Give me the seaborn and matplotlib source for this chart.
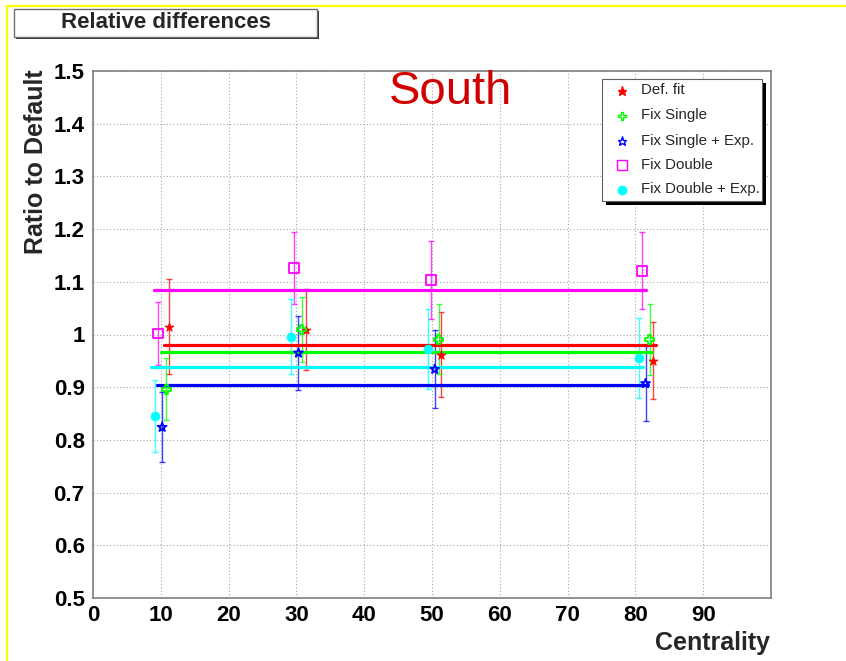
import matplotlib
matplotlib.use("Agg")
import matplotlib.pyplot as plt
import seaborn as sns
import pandas as pd
from matplotlib.patches import Rectangle
from matplotlib.lines import Line2D
from matplotlib.ticker import MultipleLocator, FixedLocator, FixedFormatter

# ---------------- data ----------------
series_names = ["Def. fit", "Fix Single", "Fix Single + Exp.", "Fix Double", "Fix Double + Exp."]
series_colors = ["#ff0000", "#00ff00", "#0000ff", "#ff00ff", "#00ffff"]

x_def = [11.2, 31.4, 51.4, 82.6]
y_def = [1.015, 1.009, 0.962, 0.950]
e_def = [0.090, 0.077, 0.081, 0.073]

x_fs = [10.8, 30.8, 51.0, 82.1]
y_fs = [0.896, 1.009, 0.991, 0.991]
e_fs = [0.059, 0.062, 0.066, 0.067]

x_fse = [10.2, 30.3, 50.4, 81.5]
y_fse = [0.824, 0.965, 0.934, 0.907]
e_fse = [0.066, 0.070, 0.074, 0.071]

x_fd = [9.6, 29.7, 49.9, 81.0]
y_fd = [1.002, 1.126, 1.104, 1.121]
e_fd = [0.060, 0.068, 0.074, 0.073]

x_fde = [9.2, 29.2, 49.4, 80.5]
y_fde = [0.845, 0.996, 0.972, 0.955]
e_fde = [0.068, 0.071, 0.076, 0.076]

# constant fits: value, range start, range end
fit_val = [0.981, 0.966, 0.904, 1.084, 0.938]
fit_lo = [10.5, 10.0, 9.5, 9.0, 8.6]
fit_hi = [83.1, 82.5, 81.8, 81.6, 81.1]

x_ticks = [0, 10, 20, 30, 40, 50, 60, 70, 80, 90]
y_ticks = [0.5, 0.6, 0.7, 0.8, 0.9, 1.0, 1.1, 1.2, 1.3, 1.4, 1.5]
y_tick_labels = ["0.5", "0.6", "0.7", "0.8", "0.9", "1", "1.1", "1.2", "1.3", "1.4", "1.5"]

title_text = "Relative differences"
region_text = "South"
x_label = "Centrality"
y_label = "Ratio to Default"

# ---------------- style ----------------
sns.set_style("white")
plt.rcParams["font.family"] = ["Liberation Sans", "DejaVu Sans"]

W, H = 846, 661
fig = plt.figure(figsize=(W / 100, H / 100), dpi=100)


def fx(px):
    return px / W


def fy(py):
    return 1 - py / H


ax = fig.add_axes([fx(93), fy(598), fx(771) - fx(93), fy(71) - fy(598)])
ax.set_xlim(0, 100)
ax.set_ylim(0.5, 1.5)

xs = [x_def, x_fs, x_fse, x_fd, x_fde]
ys = [y_def, y_fs, y_fse, y_fd, y_fde]
es = [e_def, e_fs, e_fse, e_fd, e_fde]
markers = ["*", "P", "*", "s", "o"]
filled = [True, False, False, False, True]
msizes = [45, 40, 45, 50, 40]

rows = []
for name, xv, yv, ev in zip(series_names, xs, ys, es):
    for a, b, c in zip(xv, yv, ev):
        rows.append({"series": name, "x": a, "y": b, "err": c})
df = pd.DataFrame(rows)

fit_rows = []
for name, v, lo, hi in zip(series_names, fit_val, fit_lo, fit_hi):
    fit_rows.append({"series": name, "x": lo, "y": v})
    fit_rows.append({"series": name, "x": hi, "y": v})
fit_df = pd.DataFrame(fit_rows)

palette = dict(zip(series_names, series_colors))

for i, name in enumerate(series_names):
    d = df[df["series"] == name]
    ax.errorbar(d["x"], d["y"], yerr=d["err"], fmt="none", ecolor=series_colors[i],
                elinewidth=1.0, capsize=2.5, capthick=1.0, alpha=0.75, zorder=3)

sns.lineplot(data=fit_df, x="x", y="y", hue="series", palette=palette, units="series",
             estimator=None, linewidth=2.3, legend=False, ax=ax, zorder=4)

for i, name in enumerate(series_names):
    d = df[df["series"] == name]
    if filled[i]:
        sns.scatterplot(x=d["x"], y=d["y"], marker=markers[i], color=series_colors[i],
                        s=msizes[i], edgecolor=series_colors[i], linewidth=0.6,
                        legend=False, ax=ax, zorder=5)
    else:
        sns.scatterplot(x=d["x"], y=d["y"], marker=markers[i], s=msizes[i],
                        facecolors="none", edgecolor=series_colors[i], linewidth=1.3,
                        legend=False, ax=ax, zorder=5)

ax.set_xlabel("")
ax.set_ylabel("")

# ticks & grid
ax.xaxis.set_major_locator(FixedLocator(x_ticks))
ax.xaxis.set_minor_locator(MultipleLocator(2))
ax.yaxis.set_major_locator(FixedLocator(y_ticks))
ax.yaxis.set_major_formatter(FixedFormatter(y_tick_labels))
ax.yaxis.set_minor_locator(MultipleLocator(0.02))
ax.tick_params(axis="both", which="both", direction="in", colors="#808080",
               labelcolor="black", top=False, right=False)
ax.tick_params(axis="x", which="major", length=9, width=1.0, labelsize=16, pad=5)
ax.tick_params(axis="x", which="minor", length=5, width=1.0)
ax.tick_params(axis="y", which="major", length=7, width=1.0, labelsize=16, pad=6)
ax.tick_params(axis="y", which="minor", length=4, width=1.0)
for lab in ax.get_xticklabels() + ax.get_yticklabels():
    lab.set_fontweight("bold")
ax.grid(True, which="major", linestyle=(0, (1, 2)), color="#a8a8a8", linewidth=0.8)
ax.set_axisbelow(True)
for sp in ax.spines.values():
    sp.set_color("#808080")
    sp.set_linewidth(1.2)
    sp.set_visible(True)

# axis labels
fig.text(fx(36), fy(162), y_label, rotation=90, ha="center", va="center",
         fontsize=18, fontweight="bold")
fig.text(fx(770), fy(643), x_label, ha="right", va="center",
         fontsize=18, fontweight="bold")

# region label
fig.text(fx(451), fy(92), region_text, ha="center", va="center",
         fontsize=34, color="#d00000")

# title box with shadow
fig.add_artist(Rectangle((fx(15.5), fy(38.5)), fx(318) - fx(15), fy(9) - fy(37),
                         transform=fig.transFigure, facecolor="#303030", edgecolor="none", zorder=9))
fig.add_artist(Rectangle((fx(13.5), fy(37)), fx(316.5) - fx(13.5), fy(9) - fy(37),
                         transform=fig.transFigure, facecolor="white", edgecolor="#707070",
                         linewidth=1.0, zorder=10))
fig.text(fx(166), fy(22.5), title_text, ha="center", va="center",
         fontsize=16, fontweight="bold", zorder=11)

# legend with shadow
lx0, lx1, ly0, ly1 = 601.5, 762, 79, 201
fig.add_artist(Rectangle((fx(lx0 + 4), fy(ly1 + 4)), fx(lx1) - fx(lx0), fy(ly0) - fy(ly1),
                         transform=fig.transFigure, facecolor="black", edgecolor="none", zorder=9))
fig.add_artist(Rectangle((fx(lx0), fy(ly1)), fx(lx1) - fx(lx0), fy(ly0) - fy(ly1),
                         transform=fig.transFigure, facecolor="white", edgecolor="#606060",
                         linewidth=0.8, zorder=10))
row_y = [90.5, 115.5, 140.5, 165, 189.5]
leg_ms = [6.5, 6, 6.5, 6.5, 6]
for i, name in enumerate(series_names):
    mfc = series_colors[i] if filled[i] else "none"
    fig.add_artist(Line2D([fx(622)], [fy(row_y[i])], transform=fig.transFigure,
                          marker=markers[i], markersize=leg_ms[i], markerfacecolor=mfc,
                          markeredgecolor=series_colors[i], markeredgewidth=1.0,
                          linestyle="none", zorder=11))
    fig.text(fx(641), fy(row_y[i]), name, ha="left", va="center", fontsize=10.8, zorder=11)

# yellow page border lines
fig.add_artist(Line2D([fx(7), fx(846)], [fy(5.5), fy(5.5)], transform=fig.transFigure,
                      color="#ffff00", linewidth=1.6, zorder=12))
fig.add_artist(Line2D([fx(7), fx(7)], [fy(5.5), fy(661)], transform=fig.transFigure,
                      color="#ffff00", linewidth=1.6, zorder=12))

fig.savefig("out.png", dpi=100)
